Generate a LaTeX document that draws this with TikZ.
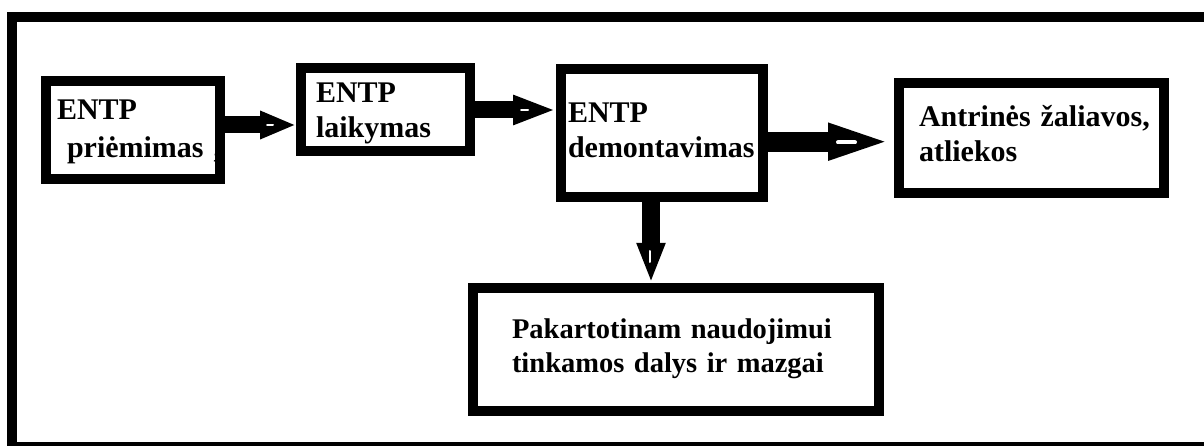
\documentclass[tikz,border=0pt]{standalone}
\usepackage{fontspec}
\setmainfont{Liberation Serif}
\usetikzlibrary{arrows.meta}
\begin{document}
\begin{tikzpicture}[x=1pt,y=-1pt,
  box/.style={draw, line width=10pt, inner sep=0pt, align=left, text depth=40pt},
  fnt/.style={font=\bfseries\fontsize{30}{#1}\selectfont},
  conn/.style={line width=#1, draw=black},
  notch/.style={draw=white, line width=#1, line cap=round}
]
\useasboundingbox (0,0) rectangle (1204,446);
\clip (0,0) rectangle (1204,446);
\fill[white] (0,0) rectangle (1204,446);
% outer frame (cut by the page on the right and at the bottom)
\draw[line width=10pt] (11.7,17) rectangle (1216,447);

\node[box, fnt=38, minimum width=174pt, minimum height=98pt, text width=152pt, text height=20pt] (b1) at (133,130)
  {ENTP\\\mbox{\ priėmimas ,}};
\node[box, fnt=35, minimum width=169pt, minimum height=83pt, text width=139pt, text height=27pt] (b2) at (385.5,109.5)
  {ENTP\\laikymas};
\node[box, fnt=35, minimum width=202pt, minimum height=128pt, text width=188pt, text height=20pt] (b3) at (662,133)
  {ENTP\\\mbox{demontavimas}};
\node[box, fnt=35, minimum width=265pt, minimum height=109.7pt, text width=225pt, text height=18.3pt] (b4) at (1031.5,137.85)
  {\mbox{Antrinės žaliavos,}\\atliekos};
\node[box, font=\bfseries\fontsize{28.5}{34}\selectfont, minimum width=406pt, minimum height=123pt, text width=328pt, text height=17pt] (b5) at (676,349.5)
  {\mbox{Pakartotinam naudojimui}\\\mbox{tinkamos dalys ir mazgai}};

\coordinate (y1) at (0,125);
\coordinate (y2) at (0,110);
\coordinate (y3) at (0,141.7);
\coordinate (x4) at (651,0);

\draw[conn=17pt, -{Triangle[length=36pt,width=26pt]}] (b1.east |- y1) -- (b2.west |- y1);
\draw[conn=17pt, -{Triangle[length=43pt,width=27pt]}] (b2.east |- y2) -- (b3.west |- y2);
\draw[conn=20pt, -{Triangle[length=66pt,width=32pt]}] (b3.east |- y3) -- (b4.west |- y3);
\draw[conn=18pt, -{Triangle[length=40pt,width=26pt]}] (b3.south -| x4) -- (b5.north -| x4);

% small light marks inside the arrow heads
\draw[notch=2pt] (267,125) -- (273,125);
\draw[notch=2pt] (521,110) -- (528,110);
\draw[notch=4pt] (838,142.5) -- (855,142.5);
\draw[notch=2pt] (650,251) -- (650,262);
\end{tikzpicture}
\end{document}
